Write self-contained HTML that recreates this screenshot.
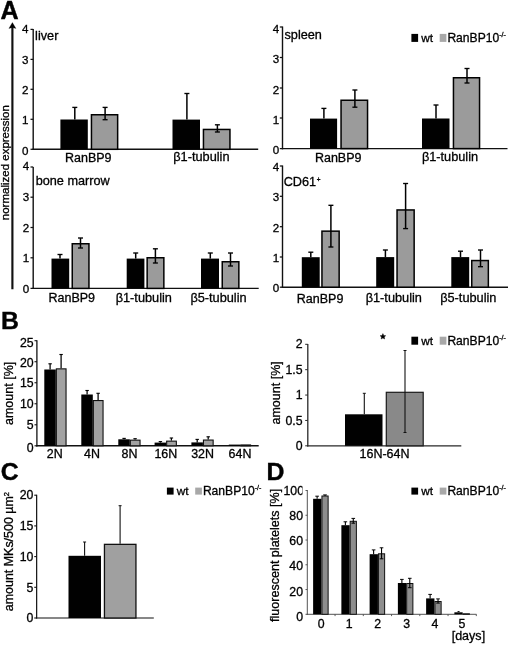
<!DOCTYPE html>
<html><head><meta charset="utf-8"><title>Figure</title>
<style>
html,body{margin:0;padding:0;background:#fff;}
body{width:520px;height:648px;overflow:hidden;}
svg{display:block;font-family:"Liberation Sans", sans-serif;fill:#000;opacity:0.999;will-change:transform;filter:blur(0.35px);}
text{stroke:#000;stroke-width:0.3px;}
</style></head>
<body>
<svg width="520" height="648" viewBox="0 0 520 648">
<defs><clipPath id="c100"><rect x="270" y="480" width="32.5" height="20"/></clipPath></defs>
<rect x="0" y="0" width="520" height="648" fill="#fff"/>
<text x="0.5" y="18.5" font-size="25.1" text-anchor="start" font-weight="bold" style="stroke-width:0.4px">A</text>
<text x="1.0" y="328.5" font-size="24.8" text-anchor="start" font-weight="bold" style="stroke-width:0.4px">B</text>
<text x="0.8" y="480.0" font-size="24.8" text-anchor="start" font-weight="bold" style="stroke-width:0.4px">C</text>
<text x="266.4" y="479.7" font-size="24.8" text-anchor="start" font-weight="bold" style="stroke-width:0.4px">D</text>
<line x1="12.4" y1="25.5" x2="12.4" y2="289.3" stroke="#111" stroke-width="2.15"/>
<path d="M12.4 22.6 L15.9 28.4 L12.4 27.5 L8.9 28.4 Z" fill="#000" stroke="#000" stroke-width="0.3"/>
<text transform="translate(9.3,220.2) rotate(-90)" font-size="11.5" text-anchor="start">normalized expression</text>
<line x1="33.2" y1="29" x2="33.2" y2="150.0" stroke="#111" stroke-width="1.4"/>
<line x1="32.5" y1="149.3" x2="258.2" y2="149.3" stroke="#111" stroke-width="1.4"/>
<line x1="30.5" y1="29.4" x2="33.2" y2="29.4" stroke="#111" stroke-width="1.25"/>
<text x="28.5" y="33.15" font-size="11.6" text-anchor="end" font-weight="normal" >4</text>
<line x1="30.5" y1="59.4" x2="33.2" y2="59.4" stroke="#111" stroke-width="1.25"/>
<text x="28.5" y="63.55" font-size="11.6" text-anchor="end" font-weight="normal" >3</text>
<line x1="30.5" y1="89.3" x2="33.2" y2="89.3" stroke="#111" stroke-width="1.25"/>
<text x="28.5" y="93.95" font-size="11.6" text-anchor="end" font-weight="normal" >2</text>
<line x1="30.5" y1="119.3" x2="33.2" y2="119.3" stroke="#111" stroke-width="1.25"/>
<text x="28.5" y="124.35" font-size="11.6" text-anchor="end" font-weight="normal" >1</text>
<line x1="30.5" y1="149.3" x2="33.2" y2="149.3" stroke="#111" stroke-width="1.25"/>
<text x="28.5" y="154.75" font-size="11.6" text-anchor="end" font-weight="normal" >0</text>
<text x="35.1" y="39.7" font-size="12.7" text-anchor="start" font-weight="normal" >liver</text>
<rect x="60.4" y="119.5" width="27.4" height="29.8" fill="#000"/>
<line x1="74.8" y1="107.4" x2="74.8" y2="119.5" stroke="#000" stroke-width="1.5"/>
<line x1="72.3" y1="107.4" x2="77.3" y2="107.4" stroke="#000" stroke-width="1.35"/>
<rect x="91.45" y="114.75" width="26.2" height="34.55" fill="#9b9b9b" stroke="#000" stroke-width="1.5"/>
<line x1="105.1" y1="107.4" x2="105.1" y2="119.7" stroke="#000" stroke-width="1.5"/>
<line x1="102.6" y1="107.4" x2="107.6" y2="107.4" stroke="#000" stroke-width="1.35"/>
<line x1="102.6" y1="119.7" x2="107.6" y2="119.7" stroke="#000" stroke-width="1.35"/>
<rect x="172.5" y="119.6" width="27.5" height="29.7" fill="#000"/>
<line x1="186.9" y1="93.5" x2="186.9" y2="119.6" stroke="#000" stroke-width="1.5"/>
<line x1="184.4" y1="93.5" x2="189.4" y2="93.5" stroke="#000" stroke-width="1.35"/>
<rect x="203.45" y="129.45" width="26.5" height="19.85" fill="#9b9b9b" stroke="#000" stroke-width="1.5"/>
<line x1="217.4" y1="124.8" x2="217.4" y2="132" stroke="#000" stroke-width="1.5"/>
<line x1="214.9" y1="124.8" x2="219.9" y2="124.8" stroke="#000" stroke-width="1.35"/>
<line x1="214.9" y1="132" x2="219.9" y2="132" stroke="#000" stroke-width="1.35"/>
<text x="88.3" y="162.0" font-size="12.5" text-anchor="middle" font-weight="normal" >RanBP9</text>
<text x="201.4" y="161.1" font-size="12.75" text-anchor="middle" font-weight="normal" >β1-tubulin</text>
<line x1="282.5" y1="26.5" x2="282.5" y2="149.3" stroke="#111" stroke-width="1.4"/>
<line x1="281.8" y1="148.6" x2="507.5" y2="148.6" stroke="#111" stroke-width="1.4"/>
<line x1="279.8" y1="27" x2="282.5" y2="27" stroke="#111" stroke-width="1.25"/>
<text x="279.3" y="32.65" font-size="11.6" text-anchor="end" font-weight="normal" >4</text>
<line x1="279.8" y1="57.5" x2="282.5" y2="57.5" stroke="#111" stroke-width="1.25"/>
<text x="279.3" y="63.1" font-size="11.6" text-anchor="end" font-weight="normal" >3</text>
<line x1="279.8" y1="88" x2="282.5" y2="88" stroke="#111" stroke-width="1.25"/>
<text x="279.3" y="93.55" font-size="11.6" text-anchor="end" font-weight="normal" >2</text>
<line x1="279.8" y1="118" x2="282.5" y2="118" stroke="#111" stroke-width="1.25"/>
<text x="279.3" y="124.0" font-size="11.6" text-anchor="end" font-weight="normal" >1</text>
<line x1="279.8" y1="148.6" x2="282.5" y2="148.6" stroke="#111" stroke-width="1.25"/>
<text x="279.3" y="154.45" font-size="11.6" text-anchor="end" font-weight="normal" >0</text>
<text x="284.5" y="38.5" font-size="12.7" text-anchor="start" font-weight="normal" >spleen</text>
<rect x="310" y="118.6" width="27.1" height="30.0" fill="#000"/>
<line x1="323.9" y1="108.4" x2="323.9" y2="118.6" stroke="#000" stroke-width="1.5"/>
<line x1="321.4" y1="108.4" x2="326.4" y2="108.4" stroke="#000" stroke-width="1.35"/>
<rect x="341.05" y="100.25" width="26.5" height="48.35" fill="#9b9b9b" stroke="#000" stroke-width="1.5"/>
<line x1="354.9" y1="90" x2="354.9" y2="107.2" stroke="#000" stroke-width="1.5"/>
<line x1="352.4" y1="90" x2="357.4" y2="90" stroke="#000" stroke-width="1.35"/>
<line x1="352.4" y1="107.2" x2="357.4" y2="107.2" stroke="#000" stroke-width="1.35"/>
<rect x="422" y="118.5" width="27.5" height="30.1" fill="#000"/>
<line x1="436" y1="105" x2="436" y2="118.5" stroke="#000" stroke-width="1.5"/>
<line x1="433.5" y1="105" x2="438.5" y2="105" stroke="#000" stroke-width="1.35"/>
<rect x="453.45" y="77.75" width="26.1" height="70.85" fill="#9b9b9b" stroke="#000" stroke-width="1.5"/>
<line x1="467" y1="68.5" x2="467" y2="83" stroke="#000" stroke-width="1.5"/>
<line x1="464.5" y1="68.5" x2="469.5" y2="68.5" stroke="#000" stroke-width="1.35"/>
<line x1="464.5" y1="83" x2="469.5" y2="83" stroke="#000" stroke-width="1.35"/>
<text x="338.2" y="161.9" font-size="12.5" text-anchor="middle" font-weight="normal" >RanBP9</text>
<text x="450" y="161.3" font-size="12.75" text-anchor="middle" font-weight="normal" >β1-tubulin</text>
<line x1="33.2" y1="167" x2="33.2" y2="289.1" stroke="#111" stroke-width="1.4"/>
<line x1="32.5" y1="288.4" x2="258.7" y2="288.4" stroke="#111" stroke-width="1.4"/>
<line x1="30.5" y1="167" x2="33.2" y2="167" stroke="#111" stroke-width="1.25"/>
<text x="29.3" y="170.45" font-size="11.6" text-anchor="end" font-weight="normal" >4</text>
<line x1="30.5" y1="197.2" x2="33.2" y2="197.2" stroke="#111" stroke-width="1.25"/>
<text x="29.3" y="201" font-size="11.6" text-anchor="end" font-weight="normal" >3</text>
<line x1="30.5" y1="227.5" x2="33.2" y2="227.5" stroke="#111" stroke-width="1.25"/>
<text x="29.3" y="231.55" font-size="11.6" text-anchor="end" font-weight="normal" >2</text>
<line x1="30.5" y1="257.8" x2="33.2" y2="257.8" stroke="#111" stroke-width="1.25"/>
<text x="29.3" y="262.1" font-size="11.6" text-anchor="end" font-weight="normal" >1</text>
<line x1="30.5" y1="288.4" x2="33.2" y2="288.4" stroke="#111" stroke-width="1.25"/>
<text x="29.3" y="292.65" font-size="11.6" text-anchor="end" font-weight="normal" >0</text>
<text x="35.7" y="184.5" font-size="12.7" text-anchor="start" font-weight="normal" >bone marrow</text>
<rect x="51.5" y="258.6" width="17.7" height="29.8" fill="#000"/>
<line x1="60" y1="254.5" x2="60" y2="258.6" stroke="#000" stroke-width="1.5"/>
<line x1="57.5" y1="254.5" x2="62.5" y2="254.5" stroke="#000" stroke-width="1.35"/>
<rect x="72.25" y="243.75" width="16.7" height="44.65" fill="#9b9b9b" stroke="#000" stroke-width="1.5"/>
<line x1="80.5" y1="238" x2="80.5" y2="248" stroke="#000" stroke-width="1.5"/>
<line x1="78.0" y1="238" x2="83.0" y2="238" stroke="#000" stroke-width="1.35"/>
<line x1="78.0" y1="248" x2="83.0" y2="248" stroke="#000" stroke-width="1.35"/>
<rect x="126.7" y="258.6" width="17.7" height="29.8" fill="#000"/>
<line x1="135.7" y1="253" x2="135.7" y2="258.6" stroke="#000" stroke-width="1.5"/>
<line x1="133.2" y1="253" x2="138.2" y2="253" stroke="#000" stroke-width="1.35"/>
<rect x="147.15" y="257.75" width="16.7" height="30.65" fill="#9b9b9b" stroke="#000" stroke-width="1.5"/>
<line x1="155.4" y1="248.8" x2="155.4" y2="263" stroke="#000" stroke-width="1.5"/>
<line x1="152.9" y1="248.8" x2="157.9" y2="248.8" stroke="#000" stroke-width="1.35"/>
<line x1="152.9" y1="263" x2="157.9" y2="263" stroke="#000" stroke-width="1.35"/>
<rect x="201" y="258.6" width="18" height="29.8" fill="#000"/>
<line x1="210.3" y1="253" x2="210.3" y2="258.6" stroke="#000" stroke-width="1.5"/>
<line x1="207.8" y1="253" x2="212.8" y2="253" stroke="#000" stroke-width="1.35"/>
<rect x="222.25" y="261.75" width="16.6" height="26.65" fill="#9b9b9b" stroke="#000" stroke-width="1.5"/>
<line x1="230.5" y1="253" x2="230.5" y2="266" stroke="#000" stroke-width="1.5"/>
<line x1="228.0" y1="253" x2="233.0" y2="253" stroke="#000" stroke-width="1.35"/>
<line x1="228.0" y1="266" x2="233.0" y2="266" stroke="#000" stroke-width="1.35"/>
<text x="71.8" y="302.4" font-size="12.5" text-anchor="middle" font-weight="normal" >RanBP9</text>
<text x="143.8" y="301.7" font-size="12.75" text-anchor="middle" font-weight="normal" >β1-tubulin</text>
<text x="218.5" y="301.7" font-size="12.75" text-anchor="middle" font-weight="normal" >β5-tubulin</text>
<line x1="282.5" y1="165.5" x2="282.5" y2="287.9" stroke="#111" stroke-width="1.4"/>
<line x1="281.8" y1="287.2" x2="508" y2="287.2" stroke="#111" stroke-width="1.4"/>
<line x1="279.8" y1="166" x2="282.5" y2="166" stroke="#111" stroke-width="1.25"/>
<text x="279.3" y="171.05" font-size="11.6" text-anchor="end" font-weight="normal" >4</text>
<line x1="279.8" y1="196.3" x2="282.5" y2="196.3" stroke="#111" stroke-width="1.25"/>
<text x="279.3" y="201.35" font-size="11.6" text-anchor="end" font-weight="normal" >3</text>
<line x1="279.8" y1="226.7" x2="282.5" y2="226.7" stroke="#111" stroke-width="1.25"/>
<text x="279.3" y="231.65" font-size="11.6" text-anchor="end" font-weight="normal" >2</text>
<line x1="279.8" y1="257" x2="282.5" y2="257" stroke="#111" stroke-width="1.25"/>
<text x="279.3" y="261.95" font-size="11.6" text-anchor="end" font-weight="normal" >1</text>
<line x1="279.8" y1="287.2" x2="282.5" y2="287.2" stroke="#111" stroke-width="1.25"/>
<text x="279.3" y="292.25" font-size="11.6" text-anchor="end" font-weight="normal" >0</text>
<text x="283.7" y="185.6" font-size="12.7" text-anchor="start" font-weight="normal" >CD61<tspan font-size="6.5" dy="-3.4" dx="0.7">+</tspan></text>
<rect x="301.8" y="257.2" width="17.9" height="30.0" fill="#000"/>
<line x1="310.8" y1="252.2" x2="310.8" y2="257.2" stroke="#000" stroke-width="1.5"/>
<line x1="308.3" y1="252.2" x2="313.3" y2="252.2" stroke="#000" stroke-width="1.35"/>
<rect x="321.95" y="231.15" width="17.2" height="56.05" fill="#9b9b9b" stroke="#000" stroke-width="1.5"/>
<line x1="330.9" y1="205.3" x2="330.9" y2="247" stroke="#000" stroke-width="1.5"/>
<line x1="328.4" y1="205.3" x2="333.4" y2="205.3" stroke="#000" stroke-width="1.35"/>
<line x1="328.4" y1="247" x2="333.4" y2="247" stroke="#000" stroke-width="1.35"/>
<rect x="376.2" y="257.1" width="18.0" height="30.1" fill="#000"/>
<line x1="385.4" y1="250" x2="385.4" y2="257.1" stroke="#000" stroke-width="1.5"/>
<line x1="382.9" y1="250" x2="387.9" y2="250" stroke="#000" stroke-width="1.35"/>
<rect x="397.05" y="209.95" width="17.1" height="77.25" fill="#9b9b9b" stroke="#000" stroke-width="1.5"/>
<line x1="405.6" y1="183.5" x2="405.6" y2="228.6" stroke="#000" stroke-width="1.5"/>
<line x1="403.1" y1="183.5" x2="408.1" y2="183.5" stroke="#000" stroke-width="1.35"/>
<line x1="403.1" y1="228.6" x2="408.1" y2="228.6" stroke="#000" stroke-width="1.35"/>
<rect x="451.3" y="257.1" width="17.9" height="30.1" fill="#000"/>
<line x1="460.5" y1="251.2" x2="460.5" y2="257.1" stroke="#000" stroke-width="1.5"/>
<line x1="458.0" y1="251.2" x2="463.0" y2="251.2" stroke="#000" stroke-width="1.35"/>
<rect x="471.75" y="260.55" width="16.6" height="26.65" fill="#9b9b9b" stroke="#000" stroke-width="1.5"/>
<line x1="480.5" y1="250" x2="480.5" y2="266.7" stroke="#000" stroke-width="1.5"/>
<line x1="478.0" y1="250" x2="483.0" y2="250" stroke="#000" stroke-width="1.35"/>
<line x1="478.0" y1="266.7" x2="483.0" y2="266.7" stroke="#000" stroke-width="1.35"/>
<text x="320.1" y="302.7" font-size="12.5" text-anchor="middle" font-weight="normal" >RanBP9</text>
<text x="393.8" y="301.8" font-size="12.75" text-anchor="middle" font-weight="normal" >β1-tubulin</text>
<text x="468.3" y="301.8" font-size="12.75" text-anchor="middle" font-weight="normal" >β5-tubulin</text>
<rect x="411.4" y="33.9" width="6.7" height="8.0" fill="#000"/>
<text x="421.3" y="41.7" font-size="11.8" text-anchor="start" font-weight="normal" >wt</text>
<rect x="439.7" y="33.9" width="6.7" height="8.0" fill="#a8a8a8"/>
<text x="447.4" y="41.7" font-size="12.1" text-anchor="start" font-weight="normal" >RanBP10<tspan font-size="7" dy="-4.4">-/-</tspan></text>
<rect x="411.4" y="336.7" width="6.7" height="8.0" fill="#000"/>
<text x="421.3" y="344.5" font-size="11.8" text-anchor="start" font-weight="normal" >wt</text>
<rect x="439.7" y="336.7" width="6.7" height="8.0" fill="#a8a8a8"/>
<text x="447.4" y="344.5" font-size="12.1" text-anchor="start" font-weight="normal" >RanBP10<tspan font-size="7" dy="-4.4">-/-</tspan></text>
<rect x="166.9" y="487.6" width="6.7" height="7.0" fill="#000"/>
<text x="176.8" y="494.7" font-size="11.8" text-anchor="start" font-weight="normal" >wt</text>
<rect x="195.2" y="487.6" width="6.7" height="7.0" fill="#a8a8a8"/>
<text x="202.9" y="494.7" font-size="12.1" text-anchor="start" font-weight="normal" >RanBP10<tspan font-size="7" dy="-4.4">-/-</tspan></text>
<rect x="411.4" y="487.6" width="6.7" height="7.0" fill="#000"/>
<text x="421.3" y="494.7" font-size="11.8" text-anchor="start" font-weight="normal" >wt</text>
<rect x="439.7" y="487.6" width="6.7" height="7.0" fill="#a8a8a8"/>
<text x="447.4" y="494.7" font-size="12.1" text-anchor="start" font-weight="normal" >RanBP10<tspan font-size="7" dy="-4.4">-/-</tspan></text>
<line x1="36.9" y1="340.3" x2="36.9" y2="446.5" stroke="#111" stroke-width="1.3"/>
<line x1="36.2" y1="445.8" x2="258.7" y2="445.8" stroke="#111" stroke-width="1.4"/>
<line x1="34.5" y1="340.7" x2="36.9" y2="340.7" stroke="#111" stroke-width="1.1"/>
<text x="33.7" y="346.6" font-size="12.3" text-anchor="end" font-weight="normal" >25</text>
<line x1="34.5" y1="361.72" x2="36.9" y2="361.72" stroke="#111" stroke-width="1.1"/>
<text x="33.7" y="366.72" font-size="12.3" text-anchor="end" font-weight="normal" >20</text>
<line x1="34.5" y1="382.74" x2="36.9" y2="382.74" stroke="#111" stroke-width="1.1"/>
<text x="33.7" y="387.14" font-size="12.3" text-anchor="end" font-weight="normal" >15</text>
<line x1="34.5" y1="403.76" x2="36.9" y2="403.76" stroke="#111" stroke-width="1.1"/>
<text x="33.7" y="408.16" font-size="12.3" text-anchor="end" font-weight="normal" >10</text>
<line x1="34.5" y1="424.78" x2="36.9" y2="424.78" stroke="#111" stroke-width="1.1"/>
<text x="33.7" y="429.18" font-size="12.3" text-anchor="end" font-weight="normal" >5</text>
<line x1="34.5" y1="445.8" x2="36.9" y2="445.8" stroke="#111" stroke-width="1.1"/>
<text x="33.7" y="451.8" font-size="12.3" text-anchor="end" font-weight="normal" >0</text>
<text transform="translate(13.2,425.0) rotate(-90)" font-size="12.5" text-anchor="start">amount [%]</text>
<rect x="44.3" y="369.5" width="11.5" height="76.3" fill="#000"/>
<rect x="56.35" y="368.85" width="9.7" height="76.95" fill="#a2a2a2" stroke="#111" stroke-width="1.1"/>
<line x1="50.1" y1="363.8" x2="50.1" y2="369.5" stroke="#000" stroke-width="1.25"/>
<line x1="48.4" y1="363.8" x2="51.8" y2="363.8" stroke="#000" stroke-width="1.12"/>
<line x1="61.1" y1="354.5" x2="61.1" y2="368.3" stroke="#000" stroke-width="1.25"/>
<line x1="59.4" y1="354.5" x2="62.8" y2="354.5" stroke="#000" stroke-width="1.12"/>
<text x="54.7" y="458.4" font-size="12.45" text-anchor="middle" font-weight="normal" >2N</text>
<rect x="81.3" y="394.5" width="11.5" height="51.3" fill="#000"/>
<rect x="93.35" y="400.55" width="9.7" height="45.25" fill="#a2a2a2" stroke="#111" stroke-width="1.1"/>
<line x1="87.1" y1="390.5" x2="87.1" y2="394.5" stroke="#000" stroke-width="1.25"/>
<line x1="85.4" y1="390.5" x2="88.8" y2="390.5" stroke="#000" stroke-width="1.12"/>
<line x1="98.1" y1="393.3" x2="98.1" y2="400.0" stroke="#000" stroke-width="1.25"/>
<line x1="96.4" y1="393.3" x2="99.8" y2="393.3" stroke="#000" stroke-width="1.12"/>
<text x="92.0" y="458.4" font-size="12.45" text-anchor="middle" font-weight="normal" >4N</text>
<rect x="118.3" y="439.3" width="11.5" height="6.5" fill="#000"/>
<rect x="130.35" y="440.15" width="9.7" height="5.65" fill="#a2a2a2" stroke="#111" stroke-width="1.1"/>
<line x1="124.1" y1="438.4" x2="124.1" y2="439.3" stroke="#000" stroke-width="1.25"/>
<line x1="122.4" y1="438.4" x2="125.8" y2="438.4" stroke="#000" stroke-width="1.12"/>
<line x1="135.1" y1="438.7" x2="135.1" y2="439.6" stroke="#000" stroke-width="1.25"/>
<line x1="133.4" y1="438.7" x2="136.8" y2="438.7" stroke="#000" stroke-width="1.12"/>
<text x="129.5" y="458.4" font-size="12.45" text-anchor="middle" font-weight="normal" >8N</text>
<rect x="154.6" y="442.6" width="11.5" height="3.2" fill="#000"/>
<rect x="166.65" y="441.15" width="9.7" height="4.65" fill="#a2a2a2" stroke="#111" stroke-width="1.1"/>
<line x1="160.4" y1="441.6" x2="160.4" y2="442.6" stroke="#000" stroke-width="1.25"/>
<line x1="158.7" y1="441.6" x2="162.1" y2="441.6" stroke="#000" stroke-width="1.12"/>
<line x1="171.4" y1="438.0" x2="171.4" y2="440.6" stroke="#000" stroke-width="1.25"/>
<line x1="169.7" y1="438.0" x2="173.1" y2="438.0" stroke="#000" stroke-width="1.12"/>
<text x="165.8" y="458.4" font-size="12.45" text-anchor="middle" font-weight="normal" >16N</text>
<rect x="191.4" y="442.4" width="11.5" height="3.4" fill="#000"/>
<rect x="203.45" y="440.05" width="9.7" height="5.75" fill="#a2a2a2" stroke="#111" stroke-width="1.1"/>
<line x1="197.2" y1="439.4" x2="197.2" y2="442.4" stroke="#000" stroke-width="1.25"/>
<line x1="195.5" y1="439.4" x2="198.9" y2="439.4" stroke="#000" stroke-width="1.12"/>
<line x1="208.2" y1="436.8" x2="208.2" y2="439.5" stroke="#000" stroke-width="1.25"/>
<line x1="206.5" y1="436.8" x2="209.9" y2="436.8" stroke="#000" stroke-width="1.12"/>
<text x="202.6" y="458.4" font-size="12.45" text-anchor="middle" font-weight="normal" >32N</text>
<rect x="228.8" y="444.6" width="11.5" height="1.2" fill="#000"/>
<rect x="240.85" y="444.95" width="9.7" height="0.85" fill="#a2a2a2" stroke="#111" stroke-width="1.1"/>
<text x="240.0" y="458.4" font-size="12.45" text-anchor="middle" font-weight="normal" >64N</text>
<line x1="307.8" y1="344" x2="307.8" y2="446.45" stroke="#282828" stroke-width="1.3"/>
<line x1="307.15" y1="445.8" x2="461.3" y2="445.8" stroke="#282828" stroke-width="1.3"/>
<line x1="305.2" y1="344.3" x2="307.8" y2="344.3" stroke="#282828" stroke-width="1.0"/>
<text x="302.6" y="348.0" font-size="12.3" text-anchor="end" font-weight="normal" >2</text>
<line x1="305.2" y1="369.68" x2="307.8" y2="369.68" stroke="#282828" stroke-width="1.0"/>
<text x="302.6" y="373.88" font-size="12.3" text-anchor="end" font-weight="normal" >1.5</text>
<line x1="305.2" y1="395.06" x2="307.8" y2="395.06" stroke="#282828" stroke-width="1.0"/>
<text x="302.6" y="399.26" font-size="12.3" text-anchor="end" font-weight="normal" >1</text>
<line x1="305.2" y1="420.44" x2="307.8" y2="420.44" stroke="#282828" stroke-width="1.0"/>
<text x="302.6" y="424.64" font-size="12.3" text-anchor="end" font-weight="normal" >0.5</text>
<line x1="305.2" y1="445.82" x2="307.8" y2="445.82" stroke="#282828" stroke-width="1.0"/>
<text x="302.6" y="450.02" font-size="12.3" text-anchor="end" font-weight="normal" >0</text>
<text transform="translate(279.8,424.5) rotate(-90)" font-size="12.5" text-anchor="start">amount [%]</text>
<rect x="345" y="414.3" width="37.5" height="31.5" fill="#000"/>
<line x1="364.3" y1="393.3" x2="364.3" y2="414.3" stroke="#111" stroke-width="1.1"/>
<line x1="362.8" y1="393.3" x2="365.8" y2="393.3" stroke="#111" stroke-width="0.99"/>
<rect x="386.3" y="392.3" width="36.9" height="53.5" fill="#898989" stroke="#1a1a1a" stroke-width="1.2"/>
<line x1="405" y1="350.5" x2="405" y2="432.5" stroke="#111" stroke-width="1.1"/>
<line x1="403.5" y1="350.5" x2="406.5" y2="350.5" stroke="#111" stroke-width="0.99"/>
<line x1="403.5" y1="432.5" x2="406.5" y2="432.5" stroke="#111" stroke-width="0.99"/>
<polygon points="382.90,333.60 383.75,335.43 385.75,335.67 384.28,337.05 384.66,339.03 382.90,338.05 381.14,339.03 381.52,337.05 380.05,335.67 382.05,335.43" fill="#000" stroke="#000" stroke-width="0.4" stroke-linejoin="round"/>
<text x="384.5" y="458.4" font-size="12.5" text-anchor="middle" font-weight="normal" >16N-64N</text>
<line x1="36.65" y1="494.7" x2="36.65" y2="618.6" stroke="#111" stroke-width="1.2"/>
<line x1="36.05" y1="618" x2="153.8" y2="618" stroke="#111" stroke-width="1.2"/>
<line x1="34.25" y1="495.2" x2="36.65" y2="495.2" stroke="#111" stroke-width="1.1"/>
<text x="33.45" y="499" font-size="12.3" text-anchor="end" font-weight="normal" >20</text>
<line x1="34.25" y1="525.9" x2="36.65" y2="525.9" stroke="#111" stroke-width="1.1"/>
<text x="33.45" y="530.3" font-size="12.3" text-anchor="end" font-weight="normal" >15</text>
<line x1="34.25" y1="556.6" x2="36.65" y2="556.6" stroke="#111" stroke-width="1.1"/>
<text x="33.45" y="561.0" font-size="12.3" text-anchor="end" font-weight="normal" >10</text>
<line x1="34.25" y1="587.3" x2="36.65" y2="587.3" stroke="#111" stroke-width="1.1"/>
<text x="33.45" y="591.7" font-size="12.3" text-anchor="end" font-weight="normal" >5</text>
<line x1="34.25" y1="618.0" x2="36.65" y2="618.0" stroke="#111" stroke-width="1.1"/>
<text x="33.45" y="622.4" font-size="12.3" text-anchor="end" font-weight="normal" >0</text>
<text transform="translate(13.2,611.2) rotate(-90)" font-size="12.45" text-anchor="start">amount MKs/500 µm<tspan font-size="7.5" dy="-4.5">2</tspan></text>
<rect x="68.5" y="555.8" width="32.5" height="62.2" fill="#000"/>
<line x1="84.6" y1="542" x2="84.6" y2="555.8" stroke="#111" stroke-width="1.1"/>
<line x1="83.1" y1="542" x2="86.1" y2="542" stroke="#111" stroke-width="0.99"/>
<rect x="104.45" y="544.35" width="31.5" height="73.65" fill="#a0a0a0" stroke="#111" stroke-width="1.3"/>
<line x1="120.1" y1="505.7" x2="120.1" y2="543.8" stroke="#111" stroke-width="1.1"/>
<line x1="118.6" y1="505.7" x2="121.6" y2="505.7" stroke="#111" stroke-width="0.99"/>
<line x1="307.3" y1="490" x2="307.3" y2="614.8" stroke="#4a4a4a" stroke-width="0.95"/>
<line x1="306.8" y1="614.3" x2="476.5" y2="614.3" stroke="#4a4a4a" stroke-width="0.95"/>
<line x1="305.5" y1="490.5" x2="307.3" y2="490.5" stroke="#4a4a4a" stroke-width="0.9"/>
<text x="304.0" y="495.1" font-size="12.3" text-anchor="end" font-weight="normal" clip-path="url(#c100)">100</text>
<line x1="305.5" y1="515.26" x2="307.3" y2="515.26" stroke="#4a4a4a" stroke-width="0.9"/>
<text x="303.0" y="520.2" font-size="12.3" text-anchor="end" font-weight="normal" >80</text>
<line x1="305.5" y1="540.02" x2="307.3" y2="540.02" stroke="#4a4a4a" stroke-width="0.9"/>
<text x="303.0" y="545.3" font-size="12.3" text-anchor="end" font-weight="normal" >60</text>
<line x1="305.5" y1="564.78" x2="307.3" y2="564.78" stroke="#4a4a4a" stroke-width="0.9"/>
<text x="303.0" y="570.4" font-size="12.3" text-anchor="end" font-weight="normal" >40</text>
<line x1="305.5" y1="589.54" x2="307.3" y2="589.54" stroke="#4a4a4a" stroke-width="0.9"/>
<text x="303.0" y="595.5" font-size="12.3" text-anchor="end" font-weight="normal" >20</text>
<line x1="305.5" y1="614.3" x2="307.3" y2="614.3" stroke="#4a4a4a" stroke-width="0.9"/>
<text x="303.0" y="620.6" font-size="12.3" text-anchor="end" font-weight="normal" >0</text>
<text transform="translate(278.5,622) rotate(-90)" font-size="12.55" text-anchor="start">fluorescent platelets [%]</text>
<line x1="335.05" y1="614.3" x2="335.05" y2="616.1" stroke="#4a4a4a" stroke-width="0.9"/>
<rect x="313.12" y="498.8" width="8.3" height="115.5" fill="#000"/>
<rect x="321.93" y="496.0" width="6.2" height="118.3" fill="#8e8e8e" stroke="#111" stroke-width="1.0"/>
<line x1="317.12" y1="496.2" x2="317.12" y2="498.8" stroke="#000" stroke-width="1.1"/>
<line x1="315.32" y1="496.2" x2="318.93" y2="496.2" stroke="#000" stroke-width="0.99"/>
<line x1="325.03" y1="494.9" x2="325.03" y2="496.1" stroke="#000" stroke-width="1.1"/>
<line x1="323.23" y1="494.9" x2="326.83" y2="494.9" stroke="#000" stroke-width="0.99"/>
<text x="321.23" y="627.8" font-size="12.3" text-anchor="middle" font-weight="normal" >0</text>
<line x1="363.3" y1="614.3" x2="363.3" y2="616.1" stroke="#4a4a4a" stroke-width="0.9"/>
<rect x="341.38" y="525.2" width="8.3" height="89.1" fill="#000"/>
<rect x="350.18" y="521.3" width="6.2" height="93.0" fill="#8e8e8e" stroke="#111" stroke-width="1.0"/>
<line x1="345.38" y1="521.8" x2="345.38" y2="525.2" stroke="#000" stroke-width="1.1"/>
<line x1="343.57" y1="521.8" x2="347.18" y2="521.8" stroke="#000" stroke-width="0.99"/>
<line x1="353.28" y1="518.4" x2="353.28" y2="523.2" stroke="#000" stroke-width="1.1"/>
<line x1="351.48" y1="518.4" x2="355.08" y2="518.4" stroke="#000" stroke-width="0.99"/>
<line x1="351.48" y1="523.2" x2="355.08" y2="523.2" stroke="#000" stroke-width="0.99"/>
<text x="349.18" y="627.8" font-size="12.3" text-anchor="middle" font-weight="normal" >1</text>
<line x1="391.55" y1="614.3" x2="391.55" y2="616.1" stroke="#4a4a4a" stroke-width="0.9"/>
<rect x="369.62" y="554.2" width="8.3" height="60.1" fill="#000"/>
<rect x="378.43" y="553.8" width="6.2" height="60.5" fill="#8e8e8e" stroke="#111" stroke-width="1.0"/>
<line x1="373.62" y1="549.9" x2="373.62" y2="554.2" stroke="#000" stroke-width="1.1"/>
<line x1="371.82" y1="549.9" x2="375.43" y2="549.9" stroke="#000" stroke-width="0.99"/>
<line x1="381.53" y1="547.8" x2="381.53" y2="558.8" stroke="#000" stroke-width="1.1"/>
<line x1="379.73" y1="547.8" x2="383.33" y2="547.8" stroke="#000" stroke-width="0.99"/>
<line x1="379.73" y1="558.8" x2="383.33" y2="558.8" stroke="#000" stroke-width="0.99"/>
<text x="377.62" y="627.8" font-size="12.3" text-anchor="middle" font-weight="normal" >2</text>
<line x1="419.8" y1="614.3" x2="419.8" y2="616.1" stroke="#4a4a4a" stroke-width="0.9"/>
<rect x="397.88" y="583.0" width="8.3" height="31.3" fill="#000"/>
<rect x="406.68" y="583.5" width="6.2" height="30.8" fill="#8e8e8e" stroke="#111" stroke-width="1.0"/>
<line x1="401.88" y1="579.4" x2="401.88" y2="583.0" stroke="#000" stroke-width="1.1"/>
<line x1="400.07" y1="579.4" x2="403.68" y2="579.4" stroke="#000" stroke-width="0.99"/>
<line x1="409.78" y1="578.3" x2="409.78" y2="587.7" stroke="#000" stroke-width="1.1"/>
<line x1="407.98" y1="578.3" x2="411.58" y2="578.3" stroke="#000" stroke-width="0.99"/>
<line x1="407.98" y1="587.7" x2="411.58" y2="587.7" stroke="#000" stroke-width="0.99"/>
<text x="406.78" y="627.8" font-size="12.3" text-anchor="middle" font-weight="normal" >3</text>
<line x1="448.05" y1="614.3" x2="448.05" y2="616.1" stroke="#4a4a4a" stroke-width="0.9"/>
<rect x="426.12" y="598.4" width="8.3" height="15.9" fill="#000"/>
<rect x="434.93" y="601.5" width="6.2" height="12.8" fill="#8e8e8e" stroke="#111" stroke-width="1.0"/>
<line x1="430.12" y1="594.4" x2="430.12" y2="598.4" stroke="#000" stroke-width="1.1"/>
<line x1="428.32" y1="594.4" x2="431.93" y2="594.4" stroke="#000" stroke-width="0.99"/>
<line x1="438.03" y1="598.9" x2="438.03" y2="603.1" stroke="#000" stroke-width="1.1"/>
<line x1="436.23" y1="598.9" x2="439.83" y2="598.9" stroke="#000" stroke-width="0.99"/>
<line x1="436.23" y1="603.1" x2="439.83" y2="603.1" stroke="#000" stroke-width="0.99"/>
<text x="434.82" y="627.8" font-size="12.3" text-anchor="middle" font-weight="normal" >4</text>
<line x1="476.3" y1="614.3" x2="476.3" y2="616.1" stroke="#4a4a4a" stroke-width="0.9"/>
<rect x="454.38" y="612.3" width="8.3" height="2.0" fill="#000"/>
<rect x="463.18" y="613.8" width="6.2" height="0.5" fill="#8e8e8e" stroke="#111" stroke-width="1.0"/>
<line x1="457.57" y1="611.6" x2="459.57" y2="611.6" stroke="#000" stroke-width="1.0"/>
<text x="461.88" y="627.8" font-size="12.3" text-anchor="middle" font-weight="normal" >5</text>
<text x="468.4" y="640.3" font-size="12.55" text-anchor="middle" font-weight="normal" >[days]</text>
</svg>
</body></html>
